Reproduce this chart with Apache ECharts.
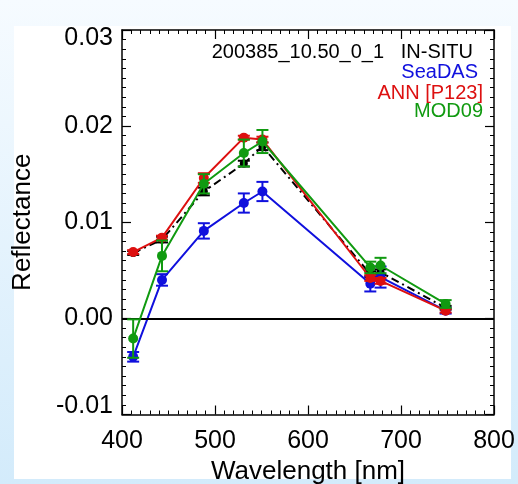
<!DOCTYPE html>
<html>
<head>
<meta charset="utf-8">
<script src="https://cdn.jsdelivr.net/npm/echarts@6/dist/echarts.min.js"></script>
<style>
html,body{margin:0;padding:0;width:518px;height:484px;overflow:hidden;background:linear-gradient(#f6fbff,#d3ebfb);}
#panel{position:absolute;left:14px;top:26px;width:497px;height:453px;background:#fff;}
#chart{position:absolute;left:0;top:0;width:518px;height:484px;}
</style>
</head>
<body>
<div id="panel"></div>
<div id="chart"></div>
<script>
// Wavelengths (nm)
const wavelengths = [412, 443, 488, 531, 551, 667, 678, 748];
// Reflectance values
const insitu   = [0.0068, 0.0082, 0.0132, 0.0161, 0.0179, 0.0046, 0.0048, 0.0011];
const seadas   = [-0.0040, 0.0040, 0.0091, 0.0120, 0.0132, 0.0036, 0.0043, 0.0008];
const ann      = [0.0069, 0.0084, 0.0146, 0.0188, 0.0186, 0.0042, 0.0039, 0.0008];
const mod09    = [-0.0021, 0.0065, 0.0140, 0.0172, 0.0184, 0.0053, 0.0055, 0.0015];
// Error bar half-widths
const insituErr = [0.0002, 0.0003, 0.0004, 0.0003, 0.0004, 0.0003, 0.0003, 0.0002];
const seadasErr = [0.0005, 0.0006, 0.0008, 0.0010, 0.0010, 0.0008, 0.0011, 0.0003];
const annErr    = [0.0002, 0.0002, 0.0005, 0.0002, 0.0003, 0.0003, 0.0003, 0.0002];
const mod09Err  = [0.0020, 0.0016, 0.0010, 0.0014, 0.0012, 0.0006, 0.0008, 0.0004];
// Tick labels
const xTicks = [400, 500, 600, 700, 800];
const yTicks = [-0.01, 0.00, 0.01, 0.02, 0.03];
const legendTitle = '200385_10.50_0_1   IN-SITU';
const legendNames = ['SeaDAS', 'ANN [P123]', 'MOD09'];

const BLUE = '#1010dd', RED = '#dd1010', GREEN = '#109a10', BLACK = '#000';
const FONT = '"Liberation Sans", Arial, Helvetica, sans-serif';

function pairs(ys){ return wavelengths.map((x,i)=>[x, ys[i]]); }
function triples(ys, es){ return wavelengths.map((x,i)=>[x, ys[i], es[i]]); }

function errSeries(ys, es, color, z){
  return {
    type:'custom', z:z, silent:true,
    data: triples(ys, es),
    renderItem: function(params, api){
      const x = api.value(0), y = api.value(1), e = api.value(2);
      const t = api.coord([x, y+e]), b = api.coord([x, y-e]);
      const w = 6;
      const st = {stroke: color, lineWidth: 2};
      return {type:'group', children:[
        {type:'line', shape:{x1:t[0], y1:t[1], x2:b[0], y2:b[1]}, style:st},
        {type:'line', shape:{x1:t[0]-w, y1:t[1], x2:t[0]+w, y2:t[1]}, style:st},
        {type:'line', shape:{x1:b[0]-w, y1:b[1], x2:b[0]+w, y2:b[1]}, style:st}
      ]};
    }
  };
}
function lineSeries(name, ys, color, z, dash){
  return {
    name:name, type:'line', z:z, data:pairs(ys),
    symbol:'circle', symbolSize: dash ? 8 : 10,
    itemStyle:{color:color},
    lineStyle:{color:color, width:2, type: dash || 'solid'},
    animation:false
  };
}

function axisCommon(){
  return {
    axisLine:{show:true, onZero:false, lineStyle:{color:'#000', width:1.5}},
    axisTick:{show:true, inside:true, length:9, lineStyle:{color:'#000', width:1.2}},
    minorTick:{show:true, splitNumber:10, length:4, lineStyle:{color:'#000', width:1}},
    splitLine:{show:false}
  };
}
const yMin = yTicks[0], yMax = yTicks[yTicks.length-1];

const chart = echarts.init(document.getElementById('chart'), null, {renderer:'canvas'});
chart.setOption({
  animation:false,
  backgroundColor:'transparent',
  grid:{left:122, top:30, width:372, height:384.5, containLabel:false, outerBoundsMode:'none'},
  xAxis:[
    Object.assign({type:'value', min:xTicks[0], max:xTicks[xTicks.length-1], interval:100, position:'bottom',
      name:'Wavelength [nm]', nameLocation:'middle', nameGap:32,
      nameTextStyle:{fontFamily:FONT, fontSize:26, color:'#000'},
      axisLabel:{fontFamily:FONT, fontSize:25, color:'#000', margin:14, showMinLabel:true, showMaxLabel:true}}, axisCommon()),
    Object.assign({type:'value', min:xTicks[0], max:xTicks[xTicks.length-1], interval:100, position:'top',
      axisLabel:{show:false}}, axisCommon())
  ],
  yAxis:[
    Object.assign({type:'value', min:yMin, max:yMax, interval:0.01, position:'left',
      name:'Reflectance', nameLocation:'middle', nameGap:86,
      nameTextStyle:{fontFamily:FONT, fontSize:26, color:'#000'},
      axisLabel:{fontFamily:FONT, fontSize:25, color:'#000', margin:9,
        formatter:function(v){
          const s = v.toFixed(2);
          if (Math.abs(v - yMax) < 1e-9) return '{t|' + s + '}';
          if (Math.abs(v - yMin) < 1e-9) return '{b|' + s + '}';
          return s;
        },
        rich:{
          t:{fontFamily:FONT, fontSize:25, color:'#000', padding:[16,0,0,0]},
          b:{fontFamily:FONT, fontSize:25, color:'#000', padding:[0,0,16,0]}
        }}}, axisCommon()),
    Object.assign({type:'value', min:yMin, max:yMax, interval:0.01, position:'right',
      axisLabel:{show:false}}, axisCommon())
  ],
  series:[
    Object.assign(lineSeries('IN-SITU', insitu, BLACK, 2, [8,4,2,4]), {
      markLine:{silent:true, symbol:'none', label:{show:false},
        lineStyle:{color:'#000', width:2, type:'solid'}, data:[{yAxis:0}], animation:false}
    }),
    errSeries(insitu, insituErr, BLACK, 2),
    lineSeries('SeaDAS', seadas, BLUE, 3),
    errSeries(seadas, seadasErr, BLUE, 3),
    lineSeries('ANN [P123]', ann, RED, 4),
    errSeries(ann, annErr, RED, 4),
    lineSeries('MOD09', mod09, GREEN, 5),
    errSeries(mod09, mod09Err, GREEN, 5)
  ],
  graphic:[
    {type:'text', right:45, top:42, style:{text:legendTitle, font:'20px '+FONT, fill:'#000'}},
    {type:'text', right:40, top:62, style:{text:legendNames[0], font:'20px '+FONT, fill:BLUE}},
    {type:'text', right:35, top:83, style:{text:legendNames[1], font:'20px '+FONT, fill:RED}},
    {type:'text', right:35, top:101, style:{text:legendNames[2], font:'20px '+FONT, fill:GREEN}}
  ]
});
</script>
</body>
</html>
